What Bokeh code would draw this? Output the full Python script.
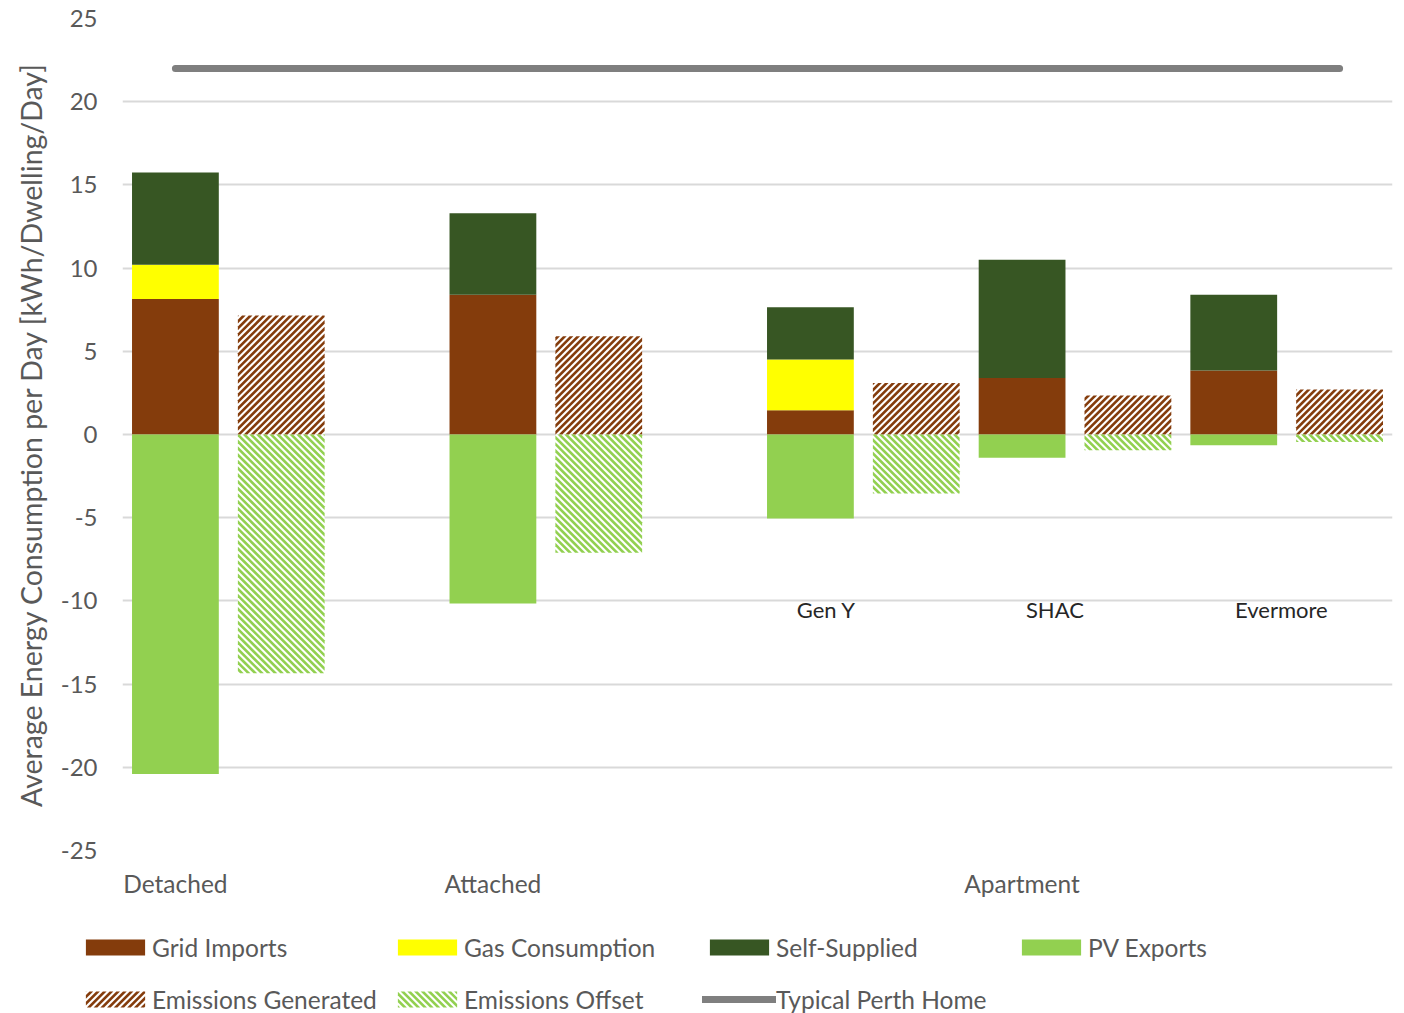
import math
from bokeh.plotting import figure
from bokeh.layouts import column
from bokeh.models import (Range1d, FixedTicker, Legend, LegendItem)
from bokeh.core.properties import value
from bokeh.embed import file_html
from bokeh.resources import INLINE

# ---------------- data ----------------
sites = ["Detached", "Attached", "Gen Y", "SHAC", "Evermore"]
grid_imports = [8.15, 8.4, 1.45, 3.4, 3.85]
gas_consumption = [2.05, 0.0, 3.05, 0.0, 0.0]
self_supplied = [5.55, 4.9, 3.15, 7.1, 4.55]
pv_exports = [20.4, 10.15, 5.05, 1.4, 0.65]
emissions_generated = [7.15, 5.9, 3.1, 2.35, 2.7]
emissions_offset = [14.35, 7.1, 3.55, 0.95, 0.45]
typical_perth_home = 22.0
dwelling_types = ["Detached", "Attached", "Apartment"]
apartment_labels = ["Gen Y", "SHAC", "Evermore"]
y_ticks = [-25, -20, -15, -10, -5, 0, 5, 10, 15, 20, 25]

# ---------------- layout helpers ----------------
n_slots = 12
stack_slot = [0, 3, 6, 8, 10]          # slot of each site's energy stack
emis_slot = [s + 1 for s in stack_slot]  # emissions bar right next to it
type_slot = [0, 3, 8]                  # where the dwelling type label sits
apt_label_slot = [6.15, 8.31, 10.45]
apt_label_y = -10.5
bar_w = 0.82

GREY_TXT = "#595959"
FONT = "Lato"
C_GRID, C_GAS, C_SELF, C_PV, C_LINE = "#843C0C", "#FFFF00", "#375623", "#92D050", "#7F7F7F"
STRIPE_PERIOD, STRIPE_FRAC = 6.7, 0.55

W, H1, H2 = 1404, 900, 113
BL, BR, BT, BB = 122, 12, 18, 50
X0, X1, Y0, Y1 = -0.5, n_slots - 0.5, -25, 25
KX = (W - BL - BR) / (X1 - X0)      # px per x unit
KY = (H1 - BT - BB) / (Y1 - Y0)     # px per y unit


def _clip(poly, g):
    out = []
    n = len(poly)
    for i in range(n):
        a, b = poly[i], poly[(i + 1) % n]
        ga, gb = g(a), g(b)
        if ga >= 0:
            out.append(a)
        if (ga >= 0) != (gb >= 0):
            t = ga / (ga - gb)
            out.append((a[0] + t * (b[0] - a[0]), a[1] + t * (b[1] - a[1])))
    return out


def stripes(u0, u1, v0, v1, up):
    """diagonal stripe polygons inside a pixel rectangle (v measured upwards)"""
    f = (lambda q: q[0] - q[1]) if up else (lambda q: q[0] + q[1])
    rect = [(u0, v0), (u1, v0), (u1, v1), (u0, v1)]
    tmin, tmax = min(map(f, rect)), max(map(f, rect))
    c = math.floor(tmin / STRIPE_PERIOD) * STRIPE_PERIOD
    out = []
    while c < tmax:
        lo, hi = c, c + STRIPE_PERIOD * STRIPE_FRAC
        poly = _clip(rect, lambda q: f(q) - lo)
        poly = _clip(poly, lambda q: hi - f(q)) if poly else []
        if len(poly) >= 3:
            out.append(poly)
        c += STRIPE_PERIOD
    return out


def bar_stripes(xs, bottoms, tops, up):
    pxs, pys = [], []
    for x, b, t in zip(xs, bottoms, tops):
        lo, hi = min(b, t), max(b, t)
        u0, u1 = (x - bar_w / 2 - X0) * KX, (x + bar_w / 2 - X0) * KX
        v0, v1 = (lo - Y0) * KY, (hi - Y0) * KY
        for poly in stripes(u0, u1, v0, v1, up):
            pxs.append([X0 + q[0] / KX for q in poly])
            pys.append([Y0 + q[1] / KY for q in poly])
    return pxs, pys


p = figure(width=W, height=H1, output_backend="svg", toolbar_location=None,
           x_range=Range1d(X0, X1), y_range=Range1d(Y0, Y1),
           min_border_left=BL, min_border_right=BR, min_border_top=BT,
           min_border_bottom=BB)
p.outline_line_color = None
p.xgrid.grid_line_color = None
p.ygrid.grid_line_color = "#D9D9D9"
p.ygrid.grid_line_width = 2

# y axis
p.yaxis.ticker = FixedTicker(ticks=y_ticks)
p.yaxis.major_label_overrides = {t: str(t) for t in y_ticks}
p.yaxis.axis_line_color = None
p.yaxis.major_tick_line_color = None
p.yaxis.minor_tick_line_color = None
p.yaxis.major_label_standoff = 19
p.yaxis.major_label_text_font = FONT
p.yaxis.major_label_text_font_size = "24px"
p.yaxis.major_label_text_color = GREY_TXT
p.yaxis.axis_label = "Average Energy Consumption per Day [kWh/Dwelling/Day]"
p.yaxis.axis_label_text_font = FONT
p.yaxis.axis_label_text_font_style = "normal"
p.yaxis.axis_label_text_font_size = "28.5px"
p.yaxis.axis_label_text_color = GREY_TXT
p.yaxis.axis_label_standoff = 10

# x axis
p.xaxis.ticker = FixedTicker(ticks=type_slot)
p.xaxis.major_label_overrides = {s: t for s, t in zip(type_slot, dwelling_types)}
p.xaxis.axis_line_color = None
p.xaxis.major_tick_line_color = None
p.xaxis.minor_tick_line_color = None
p.xaxis.major_label_standoff = 12
p.xaxis.major_label_text_font = FONT
p.xaxis.major_label_text_font_size = "24.5px"
p.xaxis.major_label_text_color = GREY_TXT

# stacked energy bars
gi_top = grid_imports
gas_top = [a + b for a, b in zip(grid_imports, gas_consumption)]
self_top = [a + b for a, b in zip(gas_top, self_supplied)]
pv_bot = [-v for v in pv_exports]

p.vbar(x=stack_slot, width=bar_w, bottom=0, top=gi_top, fill_color=C_GRID, line_color=None)
p.vbar(x=stack_slot, width=bar_w, bottom=gi_top, top=gas_top, fill_color=C_GAS, line_color=None)
p.vbar(x=stack_slot, width=bar_w, bottom=gas_top, top=self_top, fill_color=C_SELF, line_color=None)
p.vbar(x=stack_slot, width=bar_w, bottom=0, top=pv_bot, fill_color=C_PV, line_color=None)

# emissions bars: white base + diagonal stripes
eo_bot = [-v for v in emissions_offset]
p.vbar(x=emis_slot, width=bar_w, bottom=0, top=emissions_generated,
       fill_color="white", line_color=None)
p.vbar(x=emis_slot, width=bar_w, bottom=0, top=eo_bot,
       fill_color="white", line_color=None)
gx, gy = bar_stripes(emis_slot, [0] * len(emis_slot), emissions_generated, True)
p.patches(xs=gx, ys=gy, fill_color=C_GRID, line_color=None)
ox, oy = bar_stripes(emis_slot, [0] * len(emis_slot), eo_bot, False)
p.patches(xs=ox, ys=oy, fill_color=C_PV, line_color=None)

# typical home line
p.line(x=list(range(n_slots)), y=[typical_perth_home] * n_slots,
       line_color=C_LINE, line_width=7, line_cap="round")

# apartment labels
p.text(x=apt_label_slot, y=[apt_label_y] * len(apartment_labels),
       text=apartment_labels, text_font=value(FONT), text_font_size="22px",
       text_color="#262626", text_align="center", text_baseline="middle")

# ---------------- legend (separate strip, pixel data space) ----------------
lg = figure(width=W, height=H2, output_backend="svg", toolbar_location=None,
            x_range=Range1d(0, W), y_range=Range1d(0, H2),
            x_axis_location=None, y_axis_location=None,
            min_border_left=0, min_border_right=0, min_border_top=0, min_border_bottom=0)
lg.frame_align = False
lg.grid.visible = False
lg.outline_line_color = None

LOC_X, LOC_Y = 78, -6
GW, GH, LW, LH, SP, STD = 74, 20, 226, 40, 12, 0
PITCH = GW + STD + LW + SP
ROW2_MID = LOC_Y + LH / 2


def swatch_rect(col):
    u0 = LOC_X + col * PITCH + 0.1 * GW
    return u0, u0 + 0.8 * GW, ROW2_MID - 0.4 * GH, ROW2_MID + 0.4 * GH


for col, (colr, up) in enumerate([(C_GRID, True), (C_PV, False)]):
    polys = stripes(*swatch_rect(col), up)
    lg.patches(xs=[[q[0] for q in pl] for pl in polys], ys=[[q[1] for q in pl] for pl in polys],
               fill_color=colr, line_color=None)

# proxy renderers (zero-size) that only carry the legend styles
e = dict(x=[1], top=[1], width=0, bottom=1, line_color=None)
k_grid = lg.vbar(fill_color=C_GRID, **e)
k_gas = lg.vbar(fill_color=C_GAS, **e)
k_self = lg.vbar(fill_color=C_SELF, **e)
k_pv = lg.vbar(fill_color=C_PV, **e)
k_eg = lg.vbar(fill_alpha=0, **e)
k_eo = lg.vbar(fill_alpha=0, **e)
k_line = lg.line(x=[1], y=[1], line_color=C_LINE, line_width=7, line_cap="round")

legend = Legend(items=[
    LegendItem(label="Grid Imports", renderers=[k_grid]),
    LegendItem(label="Gas Consumption", renderers=[k_gas]),
    LegendItem(label="Self-Supplied", renderers=[k_self]),
    LegendItem(label="PV Exports", renderers=[k_pv]),
    LegendItem(label="Emissions Generated", renderers=[k_eg]),
    LegendItem(label="Emissions Offset", renderers=[k_eo]),
    LegendItem(label="Typical Perth Home", renderers=[k_line]),
], orientation="horizontal", ncols=4,
    location=(LOC_X, LOC_Y), padding=0, margin=0, spacing=SP,
    glyph_width=GW, glyph_height=GH, label_standoff=STD,
    label_width=LW, label_height=LH,
    label_text_font=FONT, label_text_font_size="24.5px", label_text_color=GREY_TXT,
    border_line_color=None, background_fill_alpha=0)
lg.add_layout(legend, "center")

open("out.html", "w").write(file_html(column(p, lg, spacing=0), INLINE))
